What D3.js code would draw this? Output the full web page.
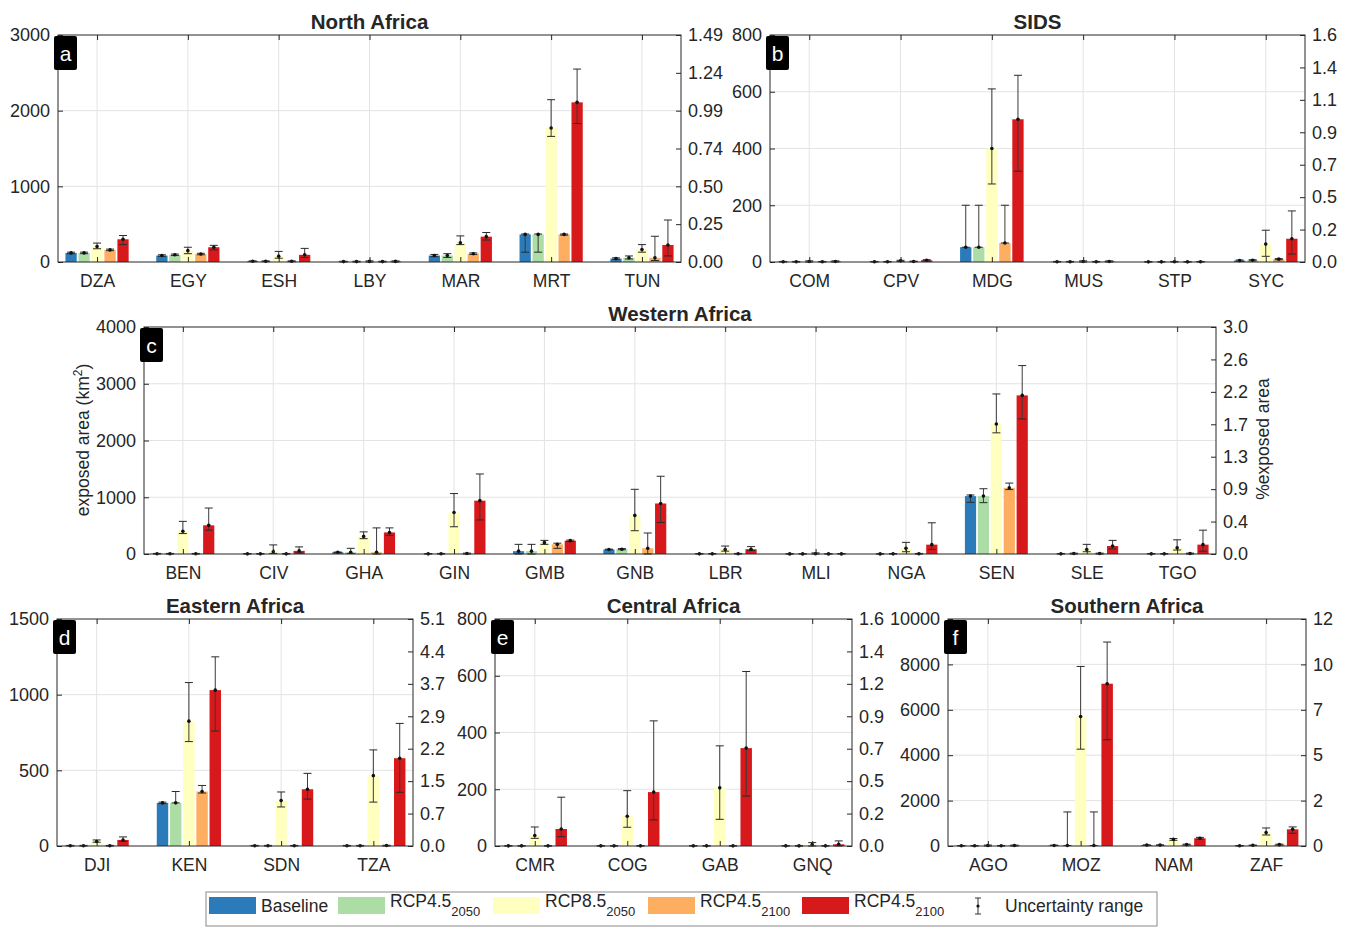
<!DOCTYPE html>
<html>
<head>
<meta charset="utf-8">
<script src="https://cdn.jsdelivr.net/npm/d3@7"></script>
<style>
  body { margin: 0; background: #fff; }
  text { font-family: "Liberation Sans", Arial, Helvetica, sans-serif; fill: #262626; }
</style>
</head>
<body>
<div id="chart"></div>
<script>
// series (legend keeps the original labels, including the repeated RCP4.5 on the last one)
const seriesNames = ['Baseline', 'RCP4.5', 'RCP8.5', 'RCP4.5', 'RCP4.5'];
const seriesSubs = ['', '2050', '2050', '2100', '2100'];
const seriesColors = ['#2b7bba', '#abdda4', '#ffffbf', '#fdae61', '#d7191c'];

// a - North Africa
const naCats = ['DZA', 'EGY', 'ESH', 'LBY', 'MAR', 'MRT', 'TUN'];
const naValues = [
  [120, 85, 10, 5, 85, 365, 45],
  [120, 95, 10, 5, 85, 365, 55],
  [205, 150, 75, 8, 255, 1770, 165],
  [160, 105, 10, 5, 110, 365, 55],
  [300, 195, 95, 8, 335, 2110, 225]
];
const naLow = [
  [110, 75, 5, 0, 70, 130, 35],
  [110, 85, 5, 0, 60, 130, 40],
  [175, 110, 50, 0, 230, 1660, 130],
  [150, 95, 5, 0, 100, 355, 20],
  [230, 160, 60, 0, 290, 1830, 80]
];
const naHigh = [
  [130, 95, 15, 10, 100, 370, 55],
  [130, 105, 15, 10, 110, 370, 80],
  [250, 195, 140, 15, 345, 2145, 230],
  [170, 115, 15, 10, 120, 370, 340],
  [350, 220, 180, 15, 390, 2550, 555]
];
const naRightTicks = ['0.00', '0.25', '0.50', '0.74', '0.99', '1.24', '1.49'];

// b - SIDS
const sidsCats = ['COM', 'CPV', 'MDG', 'MUS', 'STP', 'SYC'];
const sidsValues = [
  [1, 1, 52, 1, 0.5, 5],
  [1, 1, 52, 1, 0.5, 6],
  [2, 4, 400, 2, 1, 63],
  [1, 2, 67, 1, 0.5, 10],
  [2, 6, 503, 2, 1, 82]
];
const sidsLow = [
  [0, 0, 52, 0, 0, 3],
  [0, 0, 52, 0, 0, 4],
  [0, 2, 275, 0, 0, 20],
  [0, 1, 67, 0, 0, 8],
  [0, 4, 320, 0, 0, 28]
];
const sidsHigh = [
  [2, 2, 200, 2, 1, 7],
  [2, 2, 200, 2, 1, 8],
  [4, 6, 610, 4, 2, 112],
  [2, 3, 200, 2, 1, 12],
  [4, 8, 658, 4, 2, 180]
];
const sidsRightTicks = ['0.0', '0.2', '0.5', '0.7', '0.9', '1.1', '1.4', '1.6'];

// c - Western Africa
const waCats = ['BEN', 'CIV', 'GHA', 'GIN', 'GMB', 'GNB', 'LBR', 'MLI', 'NGA', 'SEN', 'SLE', 'TGO'];
const waValues = [
  [5, 3, 30, 3, 50, 80, 3, 2, 2, 1020, 3, 3],
  [5, 3, 30, 5, 50, 85, 3, 2, 3, 1020, 8, 3],
  [400, 40, 310, 730, 200, 680, 80, 5, 100, 2290, 80, 110],
  [5, 3, 30, 8, 170, 100, 5, 2, 5, 1165, 8, 8],
  [505, 55, 380, 940, 235, 890, 85, 2, 165, 2795, 140, 165]
];
const waLow = [
  [0, 0, 25, 0, 0, 75, 0, 0, 0, 910, 0, 0],
  [0, 0, 10, 0, 0, 75, 0, 0, 0, 905, 0, 0],
  [360, 10, 270, 480, 170, 410, 50, 0, 40, 2135, 40, 70],
  [0, 0, 0, 0, 100, 0, 0, 0, 0, 1135, 0, 0],
  [420, 20, 330, 600, 220, 555, 60, 0, 80, 2380, 90, 50]
];
const waHigh = [
  [10, 8, 35, 8, 170, 85, 8, 5, 5, 1040, 8, 8],
  [10, 8, 100, 10, 170, 95, 8, 5, 8, 1150, 15, 8],
  [575, 160, 390, 1065, 240, 1140, 140, 20, 205, 2820, 170, 250],
  [10, 8, 460, 15, 190, 370, 10, 5, 10, 1250, 15, 15],
  [810, 125, 460, 1410, 245, 1370, 130, 8, 550, 3320, 240, 420]
];
const waRightTicks = ['0.0', '0.4', '0.9', '1.3', '1.7', '2.2', '2.6', '3.0'];

// d - Eastern Africa
const eaCats = ['DJI', 'KEN', 'SDN', 'TZA'];
const eaValues = [
  [2, 285, 2, 2],
  [2, 285, 2, 2],
  [30, 825, 300, 465],
  [2, 360, 2, 3],
  [40, 1030, 375, 580]
];
const eaLow = [
  [0, 280, 0, 0],
  [0, 285, 0, 0],
  [25, 690, 258, 290],
  [0, 350, 0, 0],
  [30, 760, 310, 355]
];
const eaHigh = [
  [4, 290, 4, 4],
  [4, 360, 4, 4],
  [40, 1080, 357, 635],
  [4, 400, 4, 5],
  [60, 1250, 480, 810]
];
const eaRightTicks = ['0.0', '0.7', '1.5', '2.2', '2.9', '3.7', '4.4', '5.1'];

// e - Central Africa
const caCats = ['CMR', 'COG', 'GAB', 'GNQ'];
const caValues = [
  [0.5, 0.5, 0.5, 0.5],
  [0.5, 0.5, 0.5, 0.5],
  [37, 105, 205, 5],
  [0.5, 0.5, 0.5, 0.5],
  [60, 190, 345, 6]
];
const caLow = [
  [0, 0, 0, 0],
  [0, 0, 0, 0],
  [27, 66, 94, 0],
  [0, 0, 0, 0],
  [33, 92, 176, 0]
];
const caHigh = [
  [1, 1, 1, 1],
  [1, 1, 1, 1],
  [67, 195, 353, 12],
  [1, 1, 1, 1],
  [172, 441, 615, 18]
];
const caRightTicks = ['0.0', '0.2', '0.5', '0.7', '0.9', '1.2', '1.4', '1.6'];

// f - Southern Africa
const saCats = ['AGO', 'MOZ', 'NAM', 'ZAF'];
const saValues = [
  [10, 20, 40, 10],
  [10, 20, 40, 30],
  [20, 5700, 290, 590],
  [10, 20, 60, 60],
  [20, 7150, 340, 735]
];
const saLow = [
  [0, 20, 30, 0],
  [0, 20, 30, 20],
  [0, 4265, 250, 485],
  [0, 20, 40, 40],
  [0, 4680, 300, 560]
];
const saHigh = [
  [20, 40, 50, 20],
  [20, 1500, 50, 40],
  [40, 7910, 330, 795],
  [20, 1500, 80, 80],
  [40, 8985, 380, 840]
];
const saRightTicks = ['0', '2', '5', '7', '10', '12'];

const width = 1351, height = 928;
const svg = d3.select('#chart').append('svg')
  .attr('width', width)
  .attr('height', height);

const panels = [
  { id: 'a', title: 'North Africa', cats: naCats, values: naValues, low: naLow, high: naHigh, right: naRightTicks, yMax: 3000, step: 1000, x0: 58, x1: 681, y0: 35, y1: 262 },
  { id: 'b', title: 'SIDS', cats: sidsCats, values: sidsValues, low: sidsLow, high: sidsHigh, right: sidsRightTicks, yMax: 800, step: 200, x0: 770, x1: 1305, y0: 35, y1: 262 },
  { id: 'c', title: 'Western Africa', cats: waCats, values: waValues, low: waLow, high: waHigh, right: waRightTicks, yMax: 4000, step: 1000, x0: 144, x1: 1216, y0: 327, y1: 554 },
  { id: 'd', title: 'Eastern Africa', cats: eaCats, values: eaValues, low: eaLow, high: eaHigh, right: eaRightTicks, yMax: 1500, step: 500, x0: 57, x1: 413, y0: 619, y1: 846 },
  { id: 'e', title: 'Central Africa', cats: caCats, values: caValues, low: caLow, high: caHigh, right: caRightTicks, yMax: 800, step: 200, x0: 495, x1: 852, y0: 619, y1: 846 },
  { id: 'f', title: 'Southern Africa', cats: saCats, values: saValues, low: saLow, high: saHigh, right: saRightTicks, yMax: 10000, step: 2000, x0: 948, x1: 1306, y0: 619, y1: 846 }
];

const axisColor = '#262626';
const gridColor = '#e3e3e3';

function styleAxis(sel, fontSize) {
  sel.select('.domain').remove();
  sel.selectAll('.tick line').attr('stroke', axisColor);
  sel.selectAll('.tick text')
    .style('font-size', fontSize + 'px')
    .attr('fill', '#262626');
}

function drawPanel(p) {
  const n = p.cats.length;
  const x = d3.scaleLinear().domain([0.57, n + 0.43]).range([p.x0, p.x1]);
  const y = d3.scaleLinear().domain([0, p.yMax]).range([p.y1, p.y0]);
  const yR = d3.scaleLinear().domain([0, p.right.length - 1]).range([p.y1, p.y0]);
  const yTicks = d3.range(0, p.yMax + 1, p.step);
  const catIdx = d3.range(1, n + 1);
  const g = svg.append('g');

  // grid
  g.selectAll('.hgrid').data(yTicks.slice(1, -1)).enter().append('line')
    .attr('x1', p.x0).attr('x2', p.x1)
    .attr('y1', d => y(d)).attr('y2', d => y(d))
    .attr('stroke', gridColor);
  g.selectAll('.vgrid').data(catIdx).enter().append('line')
    .attr('x1', d => x(d)).attr('x2', d => x(d))
    .attr('y1', p.y0).attr('y2', p.y1)
    .attr('stroke', gridColor);

  // bars
  const slot = x(2) - x(1);
  const barW = slot * 0.124;
  const off = j => (j - 2) * 0.143;
  p.values.forEach((vals, j) => {
    g.append('g').selectAll('rect').data(vals).enter().append('rect')
      .attr('x', (d, i) => x(i + 1 + off(j)) - barW / 2)
      .attr('y', d => y(d))
      .attr('width', barW)
      .attr('height', d => y(0) - y(d))
      .attr('fill', seriesColors[j]);
  });

  // error bars
  const capW = 4;
  p.values.forEach((vals, j) => {
    const eg = g.append('g');
    vals.forEach((v, i) => {
      const cx = x(i + 1 + off(j));
      const lo = y(p.low[j][i]), hi = y(p.high[j][i]);
      eg.append('line').attr('x1', cx).attr('x2', cx).attr('y1', lo).attr('y2', hi)
        .attr('stroke', '#3a3a3a').attr('stroke-width', 1);
      [lo, hi].forEach(yy => {
        eg.append('line').attr('x1', cx - capW).attr('x2', cx + capW).attr('y1', yy).attr('y2', yy)
          .attr('stroke', '#2a2a2a').attr('stroke-width', 1);
      });
      eg.append('circle').attr('cx', cx).attr('cy', y(v)).attr('r', 1.8).attr('fill', '#111');
    });
  });

  // axes
  const left = g.append('g').attr('transform', `translate(${p.x0},0)`)
    .call(d3.axisLeft(y).tickValues(yTicks).tickFormat(d3.format('d')).tickSize(-5).tickSizeOuter(0).tickPadding(8));
  styleAxis(left, 18);
  const right = g.append('g').attr('transform', `translate(${p.x1},0)`)
    .call(d3.axisRight(yR).tickValues(d3.range(p.right.length)).tickFormat(i => p.right[i]).tickSize(-5).tickSizeOuter(0).tickPadding(7));
  styleAxis(right, 18);
  const bottom = g.append('g').attr('transform', `translate(0,${p.y1})`)
    .call(d3.axisBottom(x).tickValues(catIdx).tickFormat(i => p.cats[i - 1]).tickSize(-5).tickSizeOuter(0).tickPadding(12.5));
  styleAxis(bottom, 17.5);
  const top = g.append('g').attr('transform', `translate(0,${p.y0})`)
    .call(d3.axisTop(x).tickValues(catIdx).tickFormat('').tickSize(-5).tickSizeOuter(0));
  styleAxis(top, 10);

  g.append('rect')
    .attr('x', p.x0).attr('y', p.y0)
    .attr('width', p.x1 - p.x0).attr('height', p.y1 - p.y0)
    .attr('fill', 'none').attr('stroke', axisColor).attr('stroke-width', 1);

  // title
  g.append('text')
    .attr('x', (p.x0 + p.x1) / 2).attr('y', p.y0 - 6)
    .attr('text-anchor', 'middle')
    .style('font-size', '20.5px').style('font-weight', 'bold')
    .attr('fill', '#111')
    .text(p.title);

  // panel letter
  g.append('rect')
    .attr('x', p.x0 - 4).attr('y', p.y0 + 1)
    .attr('width', 23).attr('height', 34).attr('rx', 2)
    .attr('fill', '#000');
  g.append('text')
    .attr('x', p.x0 + 7.5).attr('y', p.y0 + 26)
    .attr('text-anchor', 'middle')
    .style('font-size', '21px')
    .style('fill', '#fff')
    .text(p.id);
}

panels.forEach(drawPanel);

// axis titles on panel c
const yl = svg.append('text')
  .attr('transform', 'translate(89,440) rotate(-90)')
  .attr('text-anchor', 'middle')
  .style('font-size', '17.5px');
yl.append('tspan').text('exposed area (km');
yl.append('tspan').attr('dy', -7).style('font-size', '12px').text('2');
yl.append('tspan').attr('dy', 7).text(')');

svg.append('text')
  .attr('transform', 'translate(1269,439) rotate(-90)')
  .attr('text-anchor', 'middle')
  .style('font-size', '17.5px')
  .text('%exposed area');

// legend
const legend = svg.append('g');
legend.append('rect')
  .attr('x', 206).attr('y', 892).attr('width', 951).attr('height', 34)
  .attr('fill', '#fff').attr('stroke', '#8a8a8a').attr('stroke-width', 1);
const swatchX = [209, 338, 493, 648, 802];
seriesNames.forEach((name, j) => {
  legend.append('rect')
    .attr('x', swatchX[j]).attr('y', 897).attr('width', 47).attr('height', 17)
    .attr('fill', seriesColors[j]);
  const t = legend.append('text')
    .attr('x', swatchX[j] + 52).attr('y', 912)
    .style('font-size', '17.5px');
  if (seriesSubs[j]) {
    t.attr('y', 907);
    t.append('tspan').text(name);
    t.append('tspan').attr('dy', 9).style('font-size', '13px').text(seriesSubs[j]);
  } else {
    t.text(name);
  }
});
// uncertainty icon
const ix = 978;
legend.append('line').attr('x1', ix).attr('x2', ix).attr('y1', 898).attr('y2', 914).attr('stroke', '#333');
[898, 914].forEach(yy => legend.append('line').attr('x1', ix - 3).attr('x2', ix + 3).attr('y1', yy).attr('y2', yy).attr('stroke', '#333'));
legend.append('circle').attr('cx', ix).attr('cy', 906).attr('r', 1.6).attr('fill', '#111');
legend.append('text').attr('x', 1005).attr('y', 912).style('font-size', '17.5px').text('Uncertainty range');
</script>
</body>
</html>
